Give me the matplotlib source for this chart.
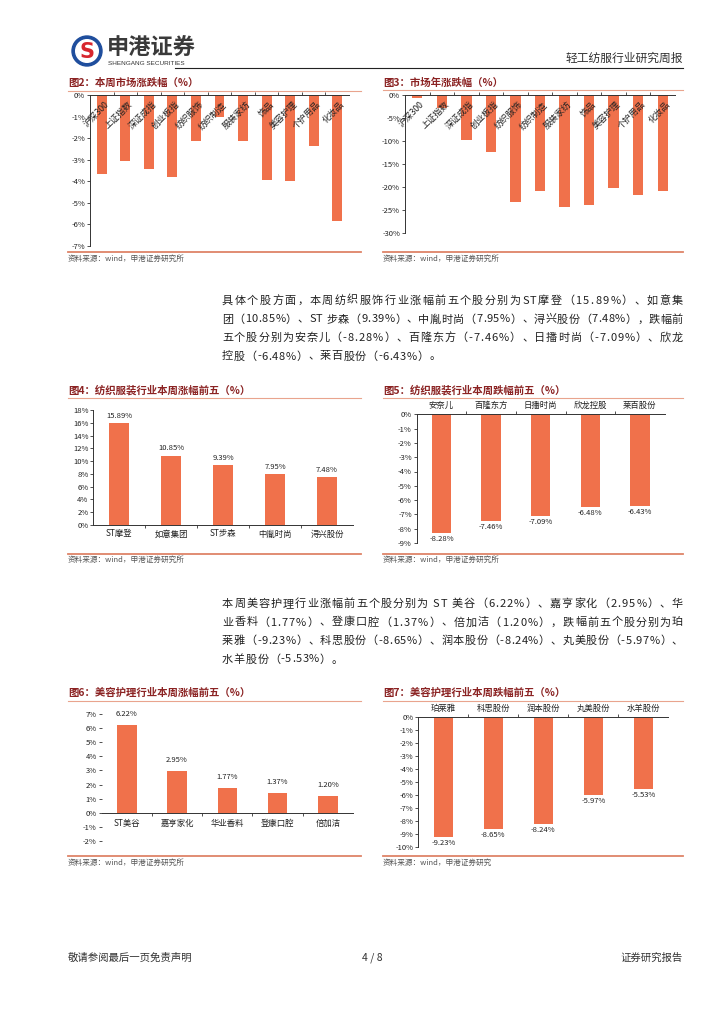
import matplotlib
matplotlib.use('Agg')
import matplotlib.pyplot as plt
import numpy as np
from matplotlib.patches import Circle
from matplotlib.font_manager import FontProperties, findfont, get_font
import matplotlib.transforms as mtrans

plt.rcParams['font.family'] = ['Noto Sans CJK SC', 'DejaVu Sans']

# ---------------- data ----------------
cat_market = ['沪深300', '上证指数', '深证成指', '创业板指', '纺织服饰', '纺织制造',
              '服装家纺', '饰品', '美容护理', '个护用品', '化妆品']
chg_week = [-3.66, -3.08, -3.43, -3.82, -2.15, -1.03, -2.15, -3.92, -3.97, -2.38, -5.82]
chg_year = [-0.65, -2.75, -9.8, -12.3, -23.2, -20.8, -24.3, -24.0, -20.2, -21.7, -20.8]
yt_week = [0, -1, -2, -3, -4, -5, -6, -7]
yt_year = [0, -5, -10, -15, -20, -25, -30]

tex_up_names = ['ST摩登', '如意集团', 'ST步森', '中胤时尚', '浔兴股份']
tex_up_vals = [15.89, 10.85, 9.39, 7.95, 7.48]
yt_tex_up = [0, 2, 4, 6, 8, 10, 12, 14, 16, 18]

tex_dn_names = ['安奈儿', '百隆东方', '日播时尚', '欣龙控股', '莱百股份']
tex_dn_vals = [-8.28, -7.46, -7.09, -6.48, -6.43]
yt_tex_dn = [0, -1, -2, -3, -4, -5, -6, -7, -8, -9]

bea_up_names = ['ST美谷', '嘉亨家化', '华业香料', '登康口腔', '倍加洁']
bea_up_vals = [6.22, 2.95, 1.77, 1.37, 1.20]
yt_bea_up = [7, 6, 5, 4, 3, 2, 1, 0, -1, -2]

bea_dn_names = ['珀莱雅', '科思股份', '润本股份', '丸美股份', '水羊股份']
bea_dn_vals = [-9.23, -8.65, -8.24, -5.97, -5.53]
yt_bea_dn = [0, -1, -2, -3, -4, -5, -6, -7, -8, -9, -10]

para1 = ['具体个股方面，本周纺织服饰行业涨幅前五个股分别为ST摩登（15.89%）、如意集',
         '团（10.85%）、ST 步森（9.39%）、中胤时尚（7.95%）、浔兴股份（7.48%），跌幅前',
         '五个股分别为安奈儿（-8.28%）、百隆东方（-7.46%）、日播时尚（-7.09%）、欣龙',
         '控股（-6.48%）、莱百股份（-6.43%）。']
para2 = ['本周美容护理行业涨幅前五个股分别为 ST 美谷（6.22%）、嘉亨家化（2.95%）、华',
         '业香料（1.77%）、登康口腔（1.37%）、倍加洁（1.20%），跌幅前五个股分别为珀',
         '莱雅（-9.23%）、科思股份（-8.65%）、润本股份（-8.24%）、丸美股份（-5.97%）、',
         '水羊股份（-5.53%）。']

# ---------------- styles ----------------
W, H = 724, 1024
BAR = '#F0714B'
TITLE_C = '#8B2323'
LINE_TOP = '#E9A48E'
LINE_BOT = '#DE8468'
TXT = '#222222'
SPINE = '#333333'

fig = plt.figure(figsize=(W / 100, H / 100), dpi=100)
bg = fig.add_axes([0, 0, 1, 1])
bg.set_xlim(0, W)
bg.set_ylim(H, 0)
bg.axis('off')
bg.set_zorder(0)


def axes_px(l, t, r, b):
    ax = fig.add_axes([l / W, 1 - b / H, (r - l) / W, (b - t) / H])
    ax.set_facecolor('none')
    ax.set_zorder(1)
    for s in ax.spines.values():
        s.set_color(SPINE)
        s.set_linewidth(0.7)
    ax.tick_params(colors=SPINE, labelcolor=TXT, labelsize=5.5, width=0.6, length=2, pad=1.5)
    return ax


# ---------------- header / footer ----------------
bg.add_patch(Circle((87, 51), 15, color='#1F4E9D'))
bg.add_patch(Circle((87, 51), 11.3, color='white'))
bg.text(87, 51.5, 'S', ha='center', va='center', fontsize=15, fontweight='bold',
        color='#D7262E', family='DejaVu Sans')
bg.text(107, 48, '申港证券', ha='left', va='center', fontsize=16, fontweight='bold', color='#3a3a3a')
bg.text(108, 63.5, 'SHENGANG SECURITIES', ha='left', va='center', fontsize=4.6,
        color='#333333', family='Liberation Sans')
bg.plot([175, 683], [68, 68], color='#222222', lw=0.8)
bg.text(683, 58, '轻工纺服行业研究周报', ha='right', va='center', fontsize=8.5, color='#333333')

bg.text(68, 958, '敬请参阅最后一页免责声明', ha='left', va='center', fontsize=7.5, color='#333333')
bg.text(372, 958, '4 / 8', ha='center', va='center', fontsize=7.5, color='#333333')
bg.text(683, 958, '证券研究报告', ha='right', va='center', fontsize=7.5, color='#333333')


# ---------------- justified paragraphs ----------------
def char_advances(s, fs):
    fp = FontProperties(family='Noto Sans CJK SC', size=fs)
    font = get_font(findfont(fp))
    font.set_size(fs, 100)
    try:
        from matplotlib.ft2font import LoadFlags
        flag = LoadFlags.NO_HINTING
    except Exception:
        from matplotlib.ft2font import LOAD_NO_HINTING as flag
    adv = []
    for c in s:
        g = font.load_char(ord(c), flags=flag)
        adv.append(g.linearHoriAdvance / 65536.0)
    return adv


def draw_line(s, x0, x1, yb, fs, justify):
    adv = char_advances(s, fs)
    gap = (x1 - x0 - sum(adv)) / (len(s) - 1) if justify else 0.6
    x = x0
    for c, a in zip(s, adv):
        if c != ' ':
            bg.text(x, yb, c, ha='left', va='baseline', fontsize=fs, color=TXT)
        x += a + gap


FS_P = 8
for i, (s, yc) in enumerate(zip(para1, [300, 318.5, 337, 355.5])):
    draw_line(s, 222, 683, yc + 4, FS_P, i < 3)
for i, (s, yc) in enumerate(zip(para2, [603, 621.5, 640, 658.5])):
    draw_line(s, 222, 683, yc + 4, FS_P, i < 3)


# ---------------- frames (titles, lines, source) ----------------
def frame(x0, x1, ty, tline, bline, sy, title, src):
    bg.text(x0, ty, title, ha='left', va='center', fontsize=7.5, fontweight='bold', color=TITLE_C)
    bg.plot([x0, x1], [tline, tline], color=LINE_TOP, lw=0.8)
    bg.plot([x0, x1], [bline, bline], color=LINE_BOT, lw=1.3)
    bg.text(x0, sy, src, ha='left', va='center', fontsize=5.5, color='#555555')


SRC = '资料来源：wind，申港证券研究所'
frame(68, 361, 82.7, 91, 252, 258.5, '图2：本周市场涨跌幅（%）', SRC)
frame(383, 683, 82.7, 90, 252, 258.5, '图3：市场年涨跌幅（%）', SRC)
frame(68, 361, 390, 398, 553.5, 559.5, '图4：纺织服装行业本周涨幅前五（%）', SRC)
frame(383, 683, 390, 398, 553.5, 559.5, '图5：纺织服装行业本周跌幅前五（%）', SRC)
frame(68, 361, 692.7, 701, 856, 862.7, '图6：美容护理行业本周涨幅前五（%）', SRC)
frame(383, 683, 692.7, 701, 856, 862.7, '图7：美容护理行业本周跌幅前五（%）', '资料来源：wind，申港证券研究')


def pct(v):
    return f'{v}%'


# ---------------- Fig 2 & 3: market ----------------
def market_chart(rect, vals, yt, ylo):
    ax = axes_px(*rect)
    x = np.arange(len(cat_market))
    ax.bar(x, vals, width=0.42, color=BAR)
    ax.set_xlim(-0.5, len(x) - 0.5)
    ax.set_ylim(ylo, 0)
    ax.spines['right'].set_visible(False)
    ax.spines['bottom'].set_visible(False)
    ax.xaxis.set_ticks_position('top')
    ax.set_xticks([])
    ax.set_xticks(x[:-1] + 0.5, minor=True)
    ax.tick_params(axis='x', which='minor', direction='out', length=2.5, width=0.6, colors=SPINE)
    ax.set_yticks(yt)
    ax.set_yticklabels([pct(v) for v in yt])
    tr = mtrans.offset_copy(ax.transData, fig=fig, x=2.5, y=-5, units='dots')
    for i, lab in enumerate(cat_market):
        ax.text(i, 0, lab, transform=tr, rotation=45, rotation_mode='anchor',
                ha='right', va='top', fontsize=6.3, color=TXT)
    return ax


market_chart((90, 95, 349, 246), chg_week, yt_week, -7)
market_chart((405, 95, 675, 233), chg_year, yt_year, -30)


# ---------------- top-5 charts ----------------
def top5(rect, names, vals, yt, ylim, mode, lab_off):
    ax = axes_px(*rect)
    x = np.arange(len(names))
    ax.bar(x, vals, width=0.39, color=BAR)
    ax.set_xlim(-0.5, len(x) - 0.5)
    ax.set_ylim(*ylim)
    ax.set_yticks(yt)
    ax.set_yticklabels([pct(v) for v in yt])
    ax.spines['right'].set_visible(False)
    ax.set_xticks(x)
    ax.set_xticklabels(names)
    ax.set_xticks(x[:-1] + 0.5, minor=True)
    ax.tick_params(axis='x', which='major', length=0, labelsize=6, pad=3.2)
    ax.tick_params(axis='x', which='minor', direction='out', length=2.5, width=0.6, colors=SPINE)
    if mode == 'neg':
        ax.spines['bottom'].set_visible(False)
        ax.xaxis.set_ticks_position('top')
        ax.tick_params(axis='x', which='major', length=0, labelsize=6, pad=3.2)
    elif mode == 'pos':
        ax.spines['top'].set_visible(False)
    elif mode == 'zero':
        ax.spines['top'].set_visible(False)
        ax.spines['left'].set_visible(False)
        ax.spines['bottom'].set_position(('data', 0))
        ax.tick_params(axis='x', which='major', length=0, labelsize=6, pad=4.5)
    for i, v in enumerate(vals):
        if v >= 0:
            ax.annotate(f'{v:.2f}%', (i, v), xytext=(0, lab_off), textcoords='offset points',
                        ha='center', va='bottom', fontsize=5.5, color=TXT)
        else:
            ax.annotate(f'{v:.2f}%', (i, v), xytext=(0, -lab_off), textcoords='offset points',
                        ha='center', va='top', fontsize=5.5, color=TXT)
    return ax


top5((93.3, 410, 353, 525), tex_up_names, tex_up_vals, yt_tex_up, (0, 18), 'pos', 2.5)
top5((416.7, 414.3, 664.7, 543), tex_dn_names, tex_dn_vals, yt_tex_dn, (-9, 0), 'neg', 1.5)
top5((101.7, 714.3, 353, 840.7), bea_up_names, bea_up_vals, yt_bea_up, (-2, 7), 'zero', 5)
top5((418.3, 717.3, 668.3, 846.7), bea_dn_names, bea_dn_vals, yt_bea_dn, (-10, 0), 'neg', 1.5)

fig.savefig('out.png', dpi=100)
